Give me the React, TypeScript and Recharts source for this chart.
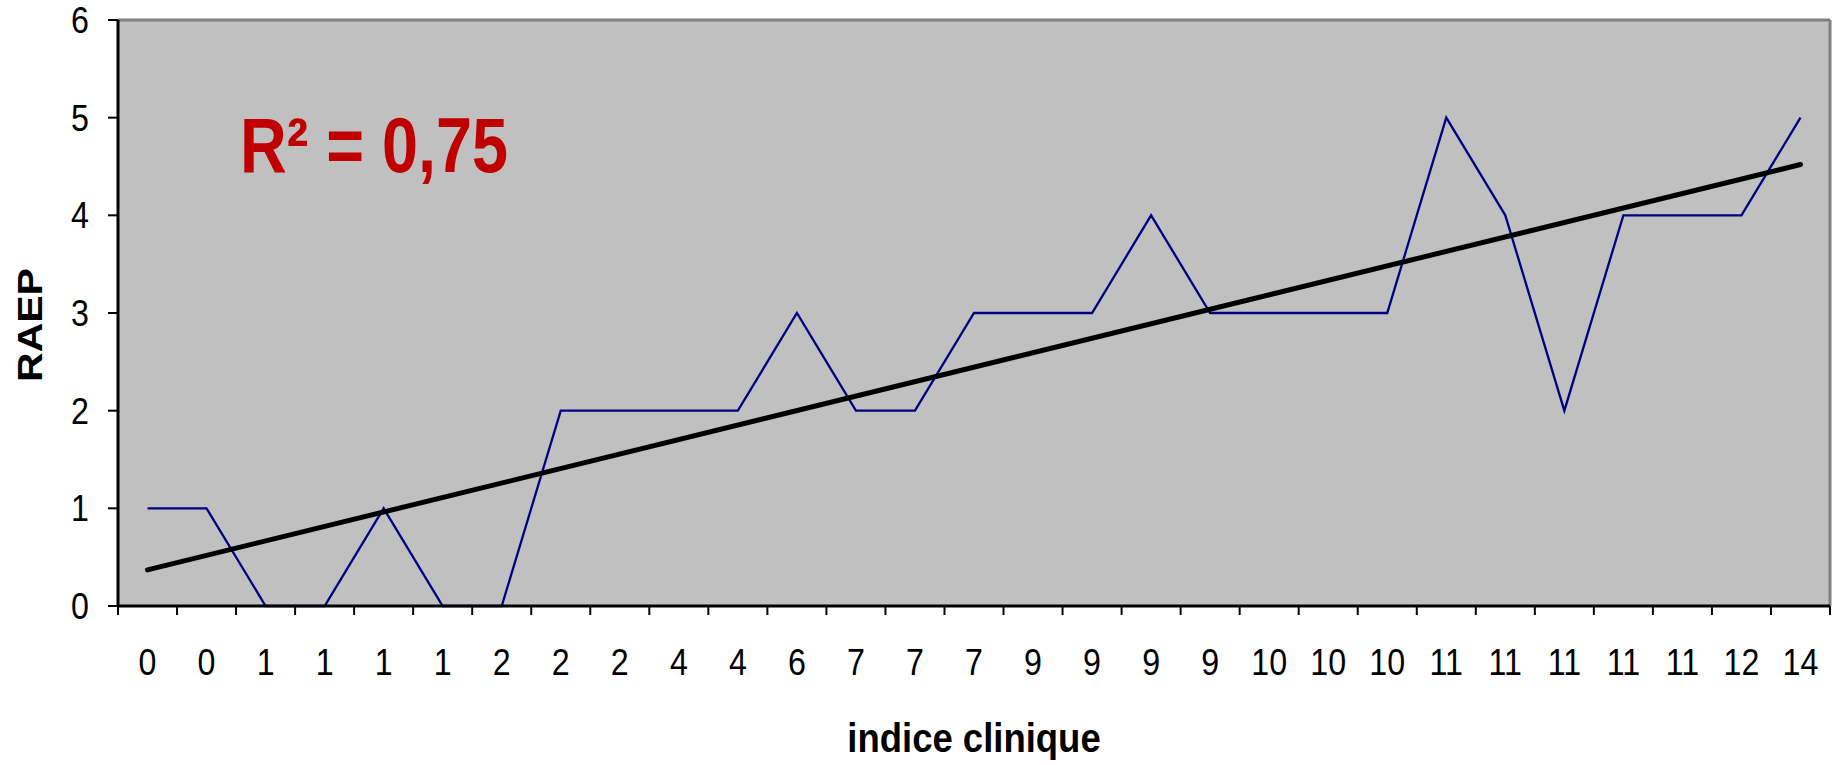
import { LineChart, Line, XAxis, YAxis, CartesianGrid, ReferenceLine, Label } from 'recharts';

const categoryLabels = ['0', '0', '1', '1', '1', '1', '2', '2', '2', '4', '4', '6', '7', '7', '7', '9', '9', '9', '9', '10', '10', '10', '11', '11', '11', '11', '11', '12', '14'];
const raepValues = [1, 1, 0, 0, 1, 0, 0, 2, 2, 2, 2, 3, 2, 2, 3, 3, 3, 4, 3, 3, 3, 3, 5, 4, 2, 4, 4, 4, 5];
const yTicks = [0, 1, 2, 3, 4, 5, 6];
// linear trend (first and last category)
const trendStart = 0.37;
const trendEnd = 4.52;
const r2Text = 'R² = 0,75';

const data = raepValues.map((v, i) => ({ idx: i, raep: v }));
const lastIdx = categoryLabels.length - 1;
const labelTicks = categoryLabels.map((_, i) => i);
const bandTicks = [...labelTicks.map((i) => i - 0.5), lastIdx + 0.5];
const xDomain = [-0.5, lastIdx + 0.5];

const FONT = '"Liberation Sans", Arial, sans-serif';
const SQUEEZE = 0.87;

function XTick({ x, y, payload }: any) {
  return (
    <text
      transform={`translate(${x},${y + 59}) scale(${SQUEEZE},1)`}
      textAnchor="middle"
      fontFamily={FONT}
      fontSize={37}
      fill="#000"
    >
      {categoryLabels[payload.value]}
    </text>
  );
}

function YTick({ x, y, payload }: any) {
  return (
    <text
      transform={`translate(${x - 17},${y + 13}) scale(${SQUEEZE},1)`}
      textAnchor="end"
      fontFamily={FONT}
      fontSize={37}
      fill="#000"
    >
      {payload.value}
    </text>
  );
}

export default function App() {
  return (
    <div style={{ position: 'fixed', left: 0, top: 0, width: 1843, height: 765, background: '#fff' }}>
      <LineChart width={1843} height={765} data={data} margin={{ top: 20, right: 13, left: 0, bottom: 0 }}>
        <CartesianGrid fill="#C0C0C0" horizontal={false} vertical={false} xAxisId={0} />
        <ReferenceLine xAxisId={0} y={6} stroke="#808080" strokeWidth={3} />
        <ReferenceLine xAxisId={0} x={lastIdx + 0.5} stroke="#808080" strokeWidth={3} />
        <XAxis
          xAxisId={0}
          type="number"
          dataKey="idx"
          domain={xDomain}
          allowDataOverflow
          ticks={bandTicks}
          interval={0}
          height={10}
          tickSize={9}
          tick={() => <g />}
          axisLine={{ stroke: '#000', strokeWidth: 3 }}
          tickLine={{ stroke: '#000', strokeWidth: 2 }}
        />
        <XAxis
          xAxisId={1}
          type="number"
          dataKey="idx"
          domain={xDomain}
          allowDataOverflow
          ticks={labelTicks}
          interval={0}
          height={149}
          tickSize={0}
          tickMargin={0}
          axisLine={false}
          tickLine={false}
          tick={<XTick />}
        >
          <Label
            content={({ viewBox }: any) => (
              <text
                transform={`translate(${viewBox.x + viewBox.width / 2},${viewBox.y + 136}) scale(0.89,1)`}
                textAnchor="middle"
                fontFamily={FONT}
                fontWeight="bold"
                fontSize={41}
                fill="#000"
              >
                indice clinique
              </text>
            )}
          />
        </XAxis>
        <YAxis
          type="number"
          domain={[0, 6]}
          ticks={yTicks}
          interval={0}
          width={118}
          tickSize={10}
          axisLine={{ stroke: '#000', strokeWidth: 3 }}
          tickLine={{ stroke: '#000', strokeWidth: 2 }}
          tick={<YTick />}
        >
          <Label
            content={({ viewBox }: any) => (
              <text
                transform={`translate(${viewBox.x + 42},${viewBox.y + viewBox.height / 2 + 12}) scale(${SQUEEZE},1) rotate(-90)`}
                textAnchor="middle"
                fontFamily={FONT}
                fontWeight="bold"
                fontSize={41}
                fill="#000"
              >
                RAEP
              </text>
            )}
          />
        </YAxis>
        <Line
          xAxisId={0}
          type="linear"
          dataKey="raep"
          stroke="#000080"
          strokeWidth={2.3}
          dot={false}
          activeDot={false}
          isAnimationActive={false}
        />
        <ReferenceLine
          xAxisId={0}
          segment={[
            { x: 0, y: trendStart },
            { x: lastIdx, y: trendEnd },
          ]}
          stroke="#000"
          strokeWidth={5}
          strokeLinecap="round"
        />
      </LineChart>
      <div
        style={{
          position: 'absolute',
          left: 240,
          top: 106,
          fontFamily: FONT,
          fontWeight: 'bold',
          fontSize: 78,
          lineHeight: 1,
          color: '#C00000',
          whiteSpace: 'nowrap',
          transform: 'scaleX(0.83)',
          transformOrigin: 'left top',
        }}
      >
        {r2Text}
      </div>
    </div>
  );
}
